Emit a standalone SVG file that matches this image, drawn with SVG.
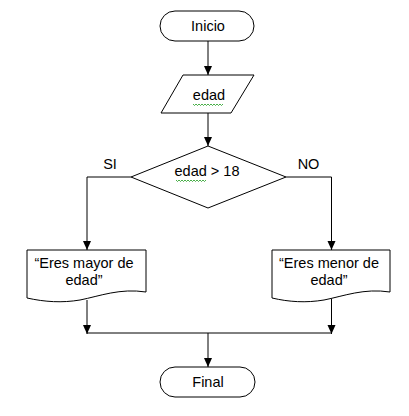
<svg xmlns="http://www.w3.org/2000/svg" width="409" height="416" viewBox="0 0 409 416">
<defs>
<style>
.s{fill:#fff;stroke:#000;stroke-width:1}
.c{fill:none;stroke:#000;stroke-width:1}
.t{font-family:"Liberation Sans",Arial,sans-serif;font-size:14.5px;fill:#000;text-anchor:middle}
.sq{fill:none;stroke:#1a9a1a;stroke-width:0.8}
</style>
<marker id="ah" markerWidth="10" markerHeight="10" refX="9" refY="5" orient="auto" markerUnits="userSpaceOnUse">
<path d="M0,1 L9,5 L0,9 Z" fill="#000"/>
</marker>
</defs>
<rect width="409" height="416" fill="#fff"/>
<g id="connectors">
<line class="c" x1="208" y1="41" x2="208" y2="75" marker-end="url(#ah)"/>
<line class="c" x1="208" y1="113" x2="208" y2="146" marker-end="url(#ah)"/>
<polyline class="c" points="131,177 87,177 87,250" marker-end="url(#ah)"/>
<polyline class="c" points="286,177 331.5,177 331.5,250" marker-end="url(#ah)"/>
<line class="c" x1="87" y1="300" x2="87" y2="334" marker-end="url(#ah)"/>
<line class="c" x1="331.5" y1="297" x2="331.5" y2="334" marker-end="url(#ah)"/>
<line class="c" x1="87" y1="333" x2="331.5" y2="333"/>
<line class="c" x1="208" y1="333" x2="208" y2="367" marker-end="url(#ah)"/>
<text class="t" x="110" y="169">SI</text>
<text class="t" x="308.5" y="169">NO</text>
</g>
<g id="inicio">
<rect class="s" x="160" y="11" width="94" height="30" rx="15" ry="15"/>
<text class="t" x="208" y="31">Inicio</text>
</g>
<g id="entrada">
<polygon class="s" points="183,75 254,75 231,113 161,113"/>
<text class="t" x="209" y="100">edad</text>
<path class="sq" d="M193,104 l1.5,1.5 l1.5,-1.5 l1.5,1.5 l1.5,-1.5 l1.5,1.5 l1.5,-1.5 l1.5,1.5 l1.5,-1.5 l1.5,1.5 l1.5,-1.5 l1.5,1.5 l1.5,-1.5 l1.5,1.5 l1.5,-1.5 l1.5,1.5 l1.5,-1.5 l1.5,1.5 l1.5,-1.5 l1.5,1.5 l1.5,-1.5"/>
</g>
<g id="decision">
<polygon class="s" points="208,146 286,177 208,208 131,177"/>
<text class="t" x="207" y="176">edad &gt; 18</text>
<path class="sq" d="M176,180 l1.5,1.5 l1.5,-1.5 l1.5,1.5 l1.5,-1.5 l1.5,1.5 l1.5,-1.5 l1.5,1.5 l1.5,-1.5 l1.5,1.5 l1.5,-1.5 l1.5,1.5 l1.5,-1.5 l1.5,1.5 l1.5,-1.5 l1.5,1.5 l1.5,-1.5 l1.5,1.5 l1.5,-1.5 l1.5,1.5 l1.5,-1.5"/>
</g>
<g id="mayor">
<path class="s" d="M27,250 H146 V292 C120,288 100,296 80,300 C62,303 45,302 27,298 Z"/>
<text class="t" x="84" y="268">“Eres mayor de</text>
<text class="t" x="84" y="285">edad”</text>
</g>
<g id="menor">
<path class="s" d="M272,250 H390 V292 C364,288 344,296 324,300 C306,303 289,302 272,298 Z"/>
<text class="t" x="329" y="268">“Eres menor de</text>
<text class="t" x="329" y="285">edad”</text>
</g>
<g id="final">
<rect class="s" x="160" y="367" width="95" height="30" rx="15" ry="15"/>
<text class="t" x="208" y="387">Final</text>
</g>
</svg>
